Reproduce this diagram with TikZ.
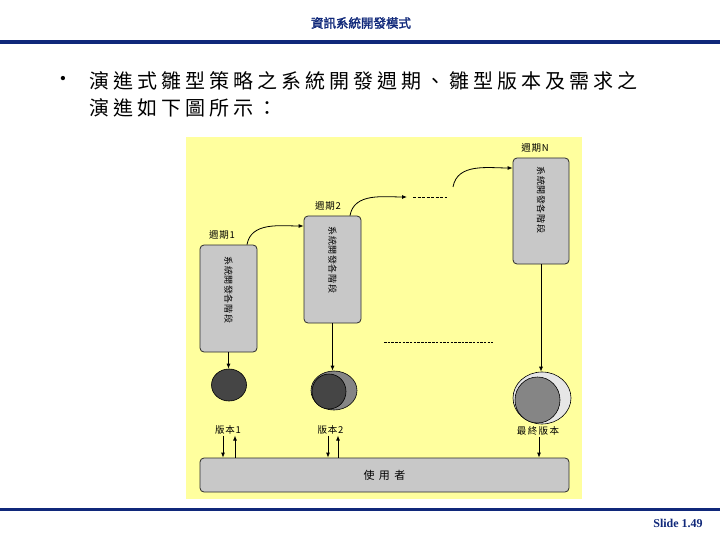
\documentclass[tikz,border=0pt]{standalone}
\usepackage{fontspec}
\setmainfont{Liberation Serif}
\newfontfamily\cjk[AutoFakeBold=2]{Noto Sans CJK TC}
\definecolor{navyDark}{HTML}{10287A}
\definecolor{paleYellow}{HTML}{FFFF9E}
\definecolor{boxGray}{HTML}{C8C8C8}
\definecolor{edgeDark}{HTML}{2A2A2A}
\definecolor{moonDark}{HTML}{454545}
\definecolor{moonMid}{HTML}{858585}
\definecolor{moonLight}{HTML}{E6E6E6}
\usetikzlibrary{arrows.meta, positioning, shapes.geometric}

\begin{document}
\begin{tikzpicture}[x=1pt, y=-1pt,
    phasebox/.style={draw=edgeDark, fill=boxGray, rounded corners=4pt, line width=0.8pt},
    vtext/.style={font=\cjk\fontsize{9}{9}\selectfont\addfontfeature{LetterSpace=6}, rotate=-90, anchor=west, inner sep=0pt},
    tag/.style={font=\cjk\fontsize{9.5}{9.5}\selectfont\addfontfeature{LetterSpace=8}, inner sep=1pt},
    moon/.style={ellipse, draw=black, line width=0.6pt, inner sep=0pt},
    arr/.style={-{Latex[length=5pt, width=4pt]}, line width=0.8pt}]
    \useasboundingbox (0,0) rectangle (720,540);
    \fill[white] (0,0) rectangle (720,540);

    % header
    \node[font=\cjk\bfseries\fontsize{12.5}{12.5}\selectfont, text=navyDark] (title) at (361,23) {資訊系統開發模式};
    \draw[navyDark, line width=3.3pt] (0,42) -- (720,42);
    \node[font=\fontsize{18}{18}\selectfont] (bul) at (63,80) {\textbullet};
    \node[anchor=west, inner sep=0pt, font=\cjk\fontsize{20}{20}\selectfont\addfontfeature{LetterSpace=20}] (line1) at (89,81) {演進式雛型策略之系統開發週期、雛型版本及需求之};
    \node[anchor=west, inner sep=0pt, font=\cjk\fontsize{20}{20}\selectfont\addfontfeature{LetterSpace=20}] (line2) at (89,108) {演進如下圖所示：};

    % picture area
    \fill[paleYellow] (186,137) rectangle (582,499);

    \node[phasebox, minimum width=57, minimum height=107] (p1) at (228.5,298.5) {};
    \node[phasebox, minimum width=57, minimum height=107] (p2) at (332.5,269.5) {};
    \node[phasebox, minimum width=56, minimum height=106] (p3) at (541,211) {};
    \node[vtext] at ([yshift=-12pt]p1.north) {系統開發各階段};
    \node[vtext] at ([yshift=-11pt]p2.north) {系統開發各階段};
    \node[vtext] at ([yshift=-9pt]p3.north) {系統開發各階段};
    \node[tag] (c1) at (222,235) {週期1};
    \node[tag] (c2) at (328,206) {週期2};
    \node[tag] (c3) at (535,148) {週期N};

    \coordinate (gapA) at (407,197);
    \coordinate (gapB) at (453,187);
    \draw[arr] ([xshift=18.5pt]p1.north) to[out=80, in=180] ([yshift=43.5pt]p2.west);
    \draw[arr] ([xshift=17.5pt]p2.north) to[out=80, in=180] (gapA);
    \draw[line width=0.8pt, dash pattern=on 3pt off 1.5pt] (413,197) -- (447,197);
    \draw[arr] (gapB) to[out=80, in=180] ([yshift=43pt]p3.west);
    \draw[line width=0.8pt, dash pattern=on 2.5pt off 1.2pt] (384,342) -- (493,342);

    % versions
    \node[moon, fill=moonDark, minimum width=35, minimum height=32] (v1) at (229,385) {};
    \node[moon, fill=moonMid, minimum width=46, minimum height=39] (v2) at (334,390.5) {};
    \node[moon, fill=moonDark, minimum width=34, minimum height=35] (v2in) at (329,391.5) {};
    \node[moon, fill=moonLight, minimum width=58, minimum height=52] (v3) at (542,398) {};
    \node[moon, fill=moonMid, minimum width=45, minimum height=46] (v3in) at (537.5,400) {};
    \draw[arr] (p1.south) -- (p1.south |- v1.north);
    \draw[arr] (p2.south) -- (p2.south |- v2.north);
    \draw[arr] (p3.south) -- (p3.south |- v3.north);

    \node[tag] (l1) at (228,430) {版本1};
    \node[tag] (l2) at (330.5,430) {版本2};
    \node[tag, font=\cjk\fontsize{9.5}{9.5}\selectfont\addfontfeature{LetterSpace=15}] (l3) at (538,431) {最終版本};

    \node[phasebox, minimum width=369, minimum height=34, font=\cjk\fontsize{11}{11}\selectfont\addfontfeature{LetterSpace=40}] (user) at (384.5,475) {使用者};
    \draw[arr] ([xshift=-5pt]l1.south) -- ([xshift=-5pt]l1.south |- user.north);
    \draw[arr] ([xshift=7pt]l1.south |- user.north) -- ([xshift=7pt]l1.south);
    \draw[arr] ([xshift=-2.5pt]l2.south) -- ([xshift=-2.5pt]l2.south |- user.north);
    \draw[arr] ([xshift=7.5pt]l2.south |- user.north) -- ([xshift=7.5pt]l2.south);
    \draw[arr] ([xshift=1pt]l3.south) -- ([xshift=1pt]l3.south |- user.north);

    % footer
    \draw[navyDark, line width=3pt] (0,509) -- (720,509);
    \node[font=\bfseries\fontsize{12}{12}\selectfont, text=navyDark] (slide) at (678,523) {Slide 1.49};
\end{tikzpicture}
\end{document}
